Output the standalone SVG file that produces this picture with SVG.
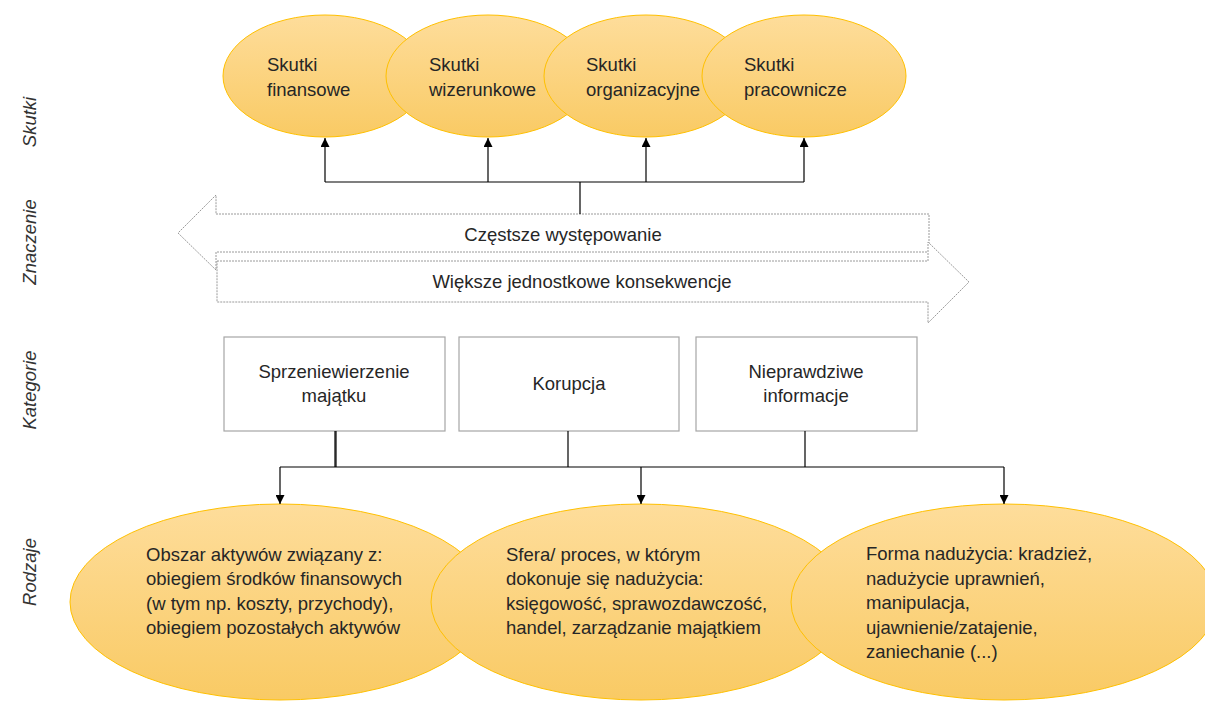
<svg xmlns="http://www.w3.org/2000/svg" width="1205" height="702" viewBox="0 0 1205 702">
  <defs>
    <linearGradient id="gold" x1="0" y1="0" x2="0" y2="1">
      <stop offset="0" stop-color="#FEDD9B"/>
      <stop offset="1" stop-color="#F9CA64"/>
    </linearGradient>
    <marker id="head" viewBox="0 0 10 10" refX="10" refY="5" markerWidth="9" markerHeight="9" markerUnits="userSpaceOnUse" orient="auto">
      <path d="M0,0 L10,5 L0,10 z" fill="#000"/>
    </marker>
    <style>
      .oval { fill: url(#gold); stroke: #FFC000; stroke-width: 1; }
      .box { fill: #fff; stroke: #A6A6A6; stroke-width: 1.2; }
      .band { fill: #fff; stroke: #9A9A9A; stroke-width: 1; stroke-dasharray: 2 1; }
      .txt { font-family: "Liberation Sans", Arial, sans-serif; font-size: 18.5px; fill: #262626; }
      .mid { text-anchor: middle; }
      .side { font-family: "Liberation Sans", Arial, sans-serif; font-size: 18.5px; font-style: italic; fill: #333; text-anchor: middle; }
      .wire { fill: none; stroke: #000; stroke-width: 1.2; }
      .arrow { fill: none; stroke: #000; stroke-width: 1.2; marker-end: url(#head); }
    </style>
  </defs>

  <!-- row labels -->
  <g id="row-labels">
    <text class="side" transform="translate(36,122) rotate(-90)">Skutki</text>
    <text class="side" transform="translate(36,242) rotate(-90)">Znaczenie</text>
    <text class="side" transform="translate(36,390) rotate(-90)">Kategorie</text>
    <text class="side" transform="translate(36,572) rotate(-90)">Rodzaje</text>
  </g>

  <!-- effects -->
  <g id="skutki-finansowe">
    <ellipse class="oval" cx="325" cy="76" rx="102" ry="61"/>
    <text class="txt" x="267" y="71">Skutki</text>
    <text class="txt" x="267" y="96">finansowe</text>
  </g>
  <g id="skutki-wizerunkowe">
    <ellipse class="oval" cx="488" cy="76" rx="102" ry="61"/>
    <text class="txt" x="429" y="71">Skutki</text>
    <text class="txt" x="429" y="96">wizerunkowe</text>
  </g>
  <g id="skutki-organizacyjne">
    <ellipse class="oval" cx="646" cy="76" rx="102" ry="61"/>
    <text class="txt" x="586" y="71">Skutki</text>
    <text class="txt" x="586" y="96">organizacyjne</text>
  </g>
  <g id="skutki-pracownicze">
    <ellipse class="oval" cx="804" cy="76" rx="102" ry="61"/>
    <text class="txt" x="744" y="71">Skutki</text>
    <text class="txt" x="744" y="96">pracownicze</text>
  </g>

  <!-- significance bands -->
  <g id="czestsze-wystepowanie">
    <polygon class="band" points="216,214 929,214 929,252 216,252 216,270 178,233 216,195"/>
    <text class="txt mid" x="563" y="241">Częstsze występowanie</text>
  </g>
  <g id="wieksze-konsekwencje">
    <polygon class="band" points="217,261 928,261 928,242 969,282 928,323 928,302 217,302"/>
    <text class="txt mid" x="582" y="288">Większe jednostkowe konsekwencje</text>
  </g>

  <!-- categories -->
  <g id="sprzeniewierzenie">
    <rect class="box" x="224" y="337" width="221" height="94"/>
    <text class="txt mid" x="334" y="378">Sprzeniewierzenie</text>
    <text class="txt mid" x="334" y="402">majątku</text>
  </g>
  <g id="korupcja">
    <rect class="box" x="459" y="337" width="220" height="94"/>
    <text class="txt mid" x="569" y="390">Korupcja</text>
  </g>
  <g id="nieprawdziwe-informacje">
    <rect class="box" x="696" y="337" width="221" height="94"/>
    <text class="txt mid" x="806" y="378">Nieprawdziwe</text>
    <text class="txt mid" x="806" y="402">informacje</text>
  </g>

  <!-- kinds -->
  <g id="obszar-aktywow">
    <ellipse class="oval" cx="280" cy="602" rx="210" ry="98"/>
    <text class="txt" x="146" y="561">Obszar aktywów związany z:</text>
    <text class="txt" x="146" y="585">obiegiem środków finansowych</text>
    <text class="txt" x="146" y="610">(w tym np. koszty, przychody),</text>
    <text class="txt" x="146" y="634">obiegiem pozostałych aktywów</text>
  </g>
  <g id="sfera-proces">
    <ellipse class="oval" cx="641" cy="602" rx="210" ry="98"/>
    <text class="txt" x="506" y="561">Sfera/ proces, w którym</text>
    <text class="txt" x="506" y="585">dokonuje się nadużycia:</text>
    <text class="txt" x="506" y="610">księgowość, sprawozdawczość,</text>
    <text class="txt" x="506" y="634">handel, zarządzanie majątkiem</text>
  </g>
  <g id="forma-naduzycia">
    <ellipse class="oval" cx="1004" cy="602" rx="213" ry="98"/>
    <text class="txt" x="866" y="560">Forma nadużycia: kradzież,</text>
    <text class="txt" x="866" y="585">nadużycie uprawnień,</text>
    <text class="txt" x="866" y="609">manipulacja,</text>
    <text class="txt" x="866" y="634">ujawnienie/zatajenie,</text>
    <text class="txt" x="866" y="658">zaniechanie (...)</text>
  </g>

  <!-- connectors -->
  <g id="connectors">
    <path class="wire" d="M580,214 V182 M325,182 H804"/>
    <path class="arrow" d="M325,182 V138"/>
    <path class="arrow" d="M488,182 V138"/>
    <path class="arrow" d="M646,182 V138"/>
    <path class="arrow" d="M804,182 V138"/>
    <path class="wire" d="M335,431 V467 M568,431 V467 M805,431 V467 M280,467 H1004"/>
    <path class="wire" d="M336,431 V467"/>
    <path class="arrow" d="M280,467 V504"/>
    <path class="arrow" d="M641,467 V504"/>
    <path class="arrow" d="M1004,467 V504"/>
  </g>
</svg>
